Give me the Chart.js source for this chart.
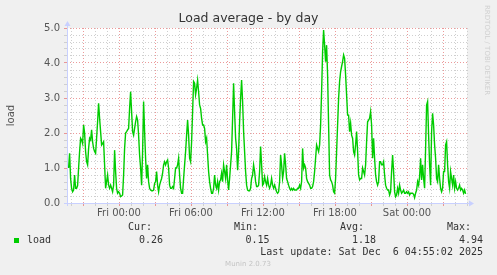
<!DOCTYPE html>
<html>
<head>
<meta charset="utf-8">
<script src="https://cdn.jsdelivr.net/npm/chart.js@4.4.0/dist/chart.umd.min.js"></script>
<style>
  html, body { margin: 0; padding: 0; background: #f0f0f0; }
</style>
</head>
<body>
<canvas id="loadChart" width="497" height="275"></canvas>
<script>
// minutes relative to Fri 00:00, one sample every 5 minutes
var startMinute = -252;
var stepMinutes = 5;

// load values, oldest first
var loadValues = [
  1.0, 1.42, 0.7, 0.42, 0.32, 0.37, 0.8, 0.42, 0.42, 0.5,
  1.0, 1.47, 1.85, 1.8, 1.7, 2.23, 2.0, 1.47, 1.18, 1.09,
  1.56, 1.85, 1.8, 2.09, 1.75, 1.56, 1.47, 1.42, 1.85, 2.32,
  2.85, 2.42, 2.04, 1.66, 1.7, 1.75, 1.09, 0.42, 0.61, 0.8,
  0.51, 0.42, 0.51, 0.42, 0.32, 0.51, 1.51, 0.9, 0.42, 0.28,
  0.32, 0.28, 0.18, 0.2, 0.23,
  0.8, 1.56, 2.0, 2.04, 2.09, 2.13, 2.7, 3.18, 2.61, 2.04,
  1.94, 2.13, 2.32, 2.47, 2.37, 1.94, 1.37, 1.0, 0.51, 1.47,
  2.9, 2.04, 1.28, 0.7, 1.09, 0.61, 0.42, 0.37, 0.35, 0.35,
  0.37, 0.56, 0.61, 0.9, 0.51, 0.32, 0.51, 0.61, 0.7, 0.85,
  1.09, 1.18, 1.09, 1.18, 1.23, 1.0, 0.51, 0.42, 0.42, 0.47,
  0.42, 0.7, 1.0, 1.0, 1.09, 1.28,
  0.8, 0.42, 0.28, 0.28, 0.7, 1.09, 1.47, 1.94, 2.37, 1.94,
  1.28, 1.18, 1.75, 2.61, 3.47, 3.42, 3.09, 3.28, 3.51, 3.18,
  2.8, 2.7, 2.42, 2.23, 2.23, 2.13, 1.75, 1.85, 1.37, 0.9,
  0.61, 0.42, 0.28, 0.28, 0.42, 0.8, 0.51, 0.42, 0.61, 0.37,
  0.61, 0.66, 0.85, 0.61, 1.09, 0.9, 0.7, 1.09, 0.66, 0.37,
  0.7, 1.09, 1.47, 2.42, 3.42, 2.61, 1.85, 1.56,
  0.94, 1.47, 2.32, 2.99, 3.51, 2.9, 2.04, 1.47, 0.9, 0.51,
  0.37, 0.35, 0.35, 0.42, 0.7, 0.8, 1.09, 0.9, 0.61, 0.47,
  0.47, 0.51, 0.9, 1.61, 1.09, 0.51, 0.56, 0.75, 0.61, 0.51,
  0.7, 0.51, 0.42, 0.51, 0.7, 0.51, 0.42, 0.51, 0.42, 0.32,
  0.28, 0.32, 0.61, 1.37, 1.09, 0.7, 0.9, 1.42, 1.09, 0.7,
  0.61, 0.51, 0.42, 0.37, 0.42, 0.37, 0.42, 0.37,
  0.37, 0.37, 0.42, 0.42, 0.51, 0.42, 0.61, 1.56, 1.0, 1.09,
  1.0, 0.7, 0.61, 0.56, 0.51, 0.42, 0.42, 0.47, 0.61, 0.9,
  1.28, 1.66, 1.56, 1.47, 1.66, 2.23, 3.18, 4.32, 4.94, 4.51,
  4.04, 4.51, 3.66, 2.23, 0.8, 0.66, 0.61, 0.51, 0.32, 0.28,
  0.7, 1.47, 2.23, 2.99, 3.47, 3.75, 3.9, 4.04, 4.23, 4.13,
  3.66, 3.09, 2.51, 2.51, 2.04, 2.28, 1.94, 1.85,
  1.47, 1.37, 1.66, 2.04, 1.47, 0.8, 0.66, 0.7, 0.7, 1.0,
  0.9, 0.8, 1.09, 1.75, 2.32, 2.37, 2.42, 2.61, 2.23, 1.28,
  1.85, 1.28, 0.8, 0.61, 0.51, 0.61, 1.18, 1.18, 1.09, 1.09,
  1.18, 0.8, 0.51, 0.42, 0.37, 0.37, 0.23, 0.32, 0.9, 1.37,
  0.9, 0.32, 0.18, 0.23, 0.42, 0.28, 0.51, 0.37, 0.28, 0.32,
  0.37, 0.28, 0.28, 0.32, 0.28, 0.32, 0.23, 0.28,
  0.28, 0.28, 0.25, 0.15, 0.28, 0.37, 0.61, 0.51, 0.75, 1.28,
  0.66, 1.09, 0.7, 0.42, 1.56, 2.8, 2.9, 1.94, 1.09, 0.51,
  2.04, 2.56, 2.23, 1.66, 1.28, 0.7, 0.61, 1.09, 0.7, 0.42,
  0.32, 0.42, 0.9, 0.9, 1.66, 1.75, 1.09, 0.61, 0.42, 0.9,
  0.7, 0.51, 0.8, 0.42, 0.61, 0.42, 0.37, 0.42, 0.51, 0.37,
  0.42, 0.37, 0.28, 0.37, 0.26
];

var xTickMinutes = [0, 360, 720, 1080, 1440];
var xTickLabels = ['Fri 00:00', 'Fri 06:00', 'Fri 12:00', 'Fri 18:00', 'Sat 00:00'];
var yTickLabels = ['0.0', '1.0', '2.0', '3.0', '4.0', '5.0'];

var legendHeads = ['Cur:', 'Min:', 'Avg:', 'Max:'];
var legendValues = ['0.26', '0.15', '1.18', '4.94'];
var lastUpdate = 'Last update: Sat Dec  6 04:55:02 2025';

var points = loadValues.map(function (v, i) {
  return { x: startMinute + i * stepMinutes, y: v };
});

var majorColor = 'rgba(230, 120, 120, 0.75)';
var minorColor = '#cfcfcf';
var axisColor = '#c8d0ff';

var xGrid = [];
for (var m = -240; m <= 1740; m += 60) xGrid.push(m);
var yGrid = [];
for (var k = 0; k <= 25; k++) yGrid.push(k / 5);

var muninDecor = {
  id: 'muninDecor',
  beforeDraw: function (chart) {
    var ctx = chart.ctx, a = chart.chartArea;
    ctx.save();
    ctx.fillStyle = '#f0f0f0';
    ctx.fillRect(0, 0, chart.width, chart.height);
    ctx.fillStyle = '#ffffff';
    ctx.fillRect(a.left, a.top, a.right - a.left, a.bottom - a.top);
    ctx.restore();
  },
  afterDraw: function (chart) {
    var ctx = chart.ctx, a = chart.chartArea;
    ctx.save();
    // axes with arrows
    ctx.strokeStyle = axisColor;
    ctx.fillStyle = axisColor;
    ctx.lineWidth = 1;
    ctx.beginPath();
    ctx.moveTo(a.left + 0.5, a.bottom + 3);
    ctx.lineTo(a.left + 0.5, a.top - 3);
    ctx.moveTo(a.left - 3, a.bottom + 0.5);
    ctx.lineTo(a.right + 3, a.bottom + 0.5);
    ctx.stroke();
    ctx.beginPath();
    ctx.moveTo(a.left + 0.5, a.top - 7);
    ctx.lineTo(a.left - 2.5, a.top - 2);
    ctx.lineTo(a.left + 3.5, a.top - 2);
    ctx.fill();
    ctx.beginPath();
    ctx.moveTo(a.right + 7, a.bottom + 0.5);
    ctx.lineTo(a.right + 2, a.bottom - 2.5);
    ctx.lineTo(a.right + 2, a.bottom + 3.5);
    ctx.fill();

    // legend block
    ctx.font = '10px "DejaVu Sans Mono"';
    ctx.fillStyle = '#333';
    ctx.textBaseline = 'middle';
    var headX = [128, 234, 340, 447];
    var valX = [163, 269.5, 376, 483];
    ctx.textAlign = 'left';
    legendHeads.forEach(function (h, i) { ctx.fillText(h, headX[i], 227.5); });
    ctx.fillText('load', 27, 240);
    ctx.textAlign = 'right';
    legendValues.forEach(function (v, i) { ctx.fillText(v, valX[i], 240); });
    ctx.fillText(lastUpdate, 483, 252);
    ctx.fillStyle = '#00cc00';
    ctx.fillRect(14, 238, 5, 5);

    ctx.font = '7px "DejaVu Sans"';
    ctx.fillStyle = '#c4c4c4';
    ctx.textAlign = 'center';
    ctx.fillText('Munin 2.0.73', 248, 264);

    ctx.translate(487, 5);
    ctx.rotate(Math.PI / 2);
    ctx.textAlign = 'left';
    ctx.fillStyle = '#d0d0d0';
    ctx.fillText('RRDTOOL / TOBI OETIKER', 0, 0);
    ctx.restore();
  }
};

Chart.defaults.font.family = '"DejaVu Sans"';

new Chart(document.getElementById('loadChart').getContext('2d'), {
  type: 'line',
  data: {
    datasets: [{
      label: 'load',
      data: points,
      borderColor: '#00cc00',
      borderWidth: 1.4,
      pointRadius: 0,
      tension: 0,
      fill: false
    }]
  },
  options: {
    responsive: false,
    animation: false,
    layout: { padding: { left: 0, right: 0, top: 0, bottom: 50 } },
    plugins: {
      legend: { display: false },
      tooltip: { enabled: false },
      title: {
        display: true,
        text: 'Load average - by day',
        color: '#333',
        font: { size: 12.5, weight: 'normal' },
        padding: { top: 11.5, bottom: 1.5 }
      }
    },
    scales: {
      x: {
        type: 'linear',
        min: -260,
        max: 1740,
        afterBuildTicks: function (axis) {
          axis.ticks = xGrid.map(function (v) { return { value: v }; });
        },
        afterFit: function (axis) { axis.height = 22; },
        grid: {
          color: function (c) { return c.tick && c.tick.value % 180 === 0 ? majorColor : minorColor; },
          tickLength: 3
        },
        border: { display: false, dash: [1, 2] },
        ticks: {
          autoSkip: false,
          maxRotation: 0,
          padding: 1,
          color: '#555',
          font: { size: 10 },
          callback: function (v) {
            var i = xTickMinutes.indexOf(v);
            return i >= 0 ? xTickLabels[i] : '';
          }
        }
      },
      y: {
        min: 0,
        max: 5,
        afterBuildTicks: function (axis) {
          axis.ticks = yGrid.map(function (v) { return { value: v }; });
        },
        afterFit: function (axis) { axis.width = 67; },
        grid: {
          color: function (c) {
            return c.tick && Math.abs(c.tick.value - Math.round(c.tick.value)) < 1e-6 ? majorColor : minorColor;
          },
          tickLength: 3
        },
        border: { display: false, dash: [1, 2] },
        ticks: {
          autoSkip: false,
          padding: 4,
          color: '#555',
          font: { size: 10 },
          callback: function (v) {
            return Math.abs(v - Math.round(v)) < 1e-6 ? yTickLabels[Math.round(v)] : '';
          }
        },
        title: {
          display: true,
          text: 'load',
          color: '#555',
          font: { size: 10 },
          padding: { top: 5, bottom: 0 }
        }
      },
      // empty right-hand axis, only reserves the margin so the title stays centred on the canvas
      yRight: {
        position: 'right',
        min: 0,
        max: 5,
        afterFit: function (axis) { axis.width = 30; },
        grid: { display: false },
        border: { display: false },
        ticks: { display: false }
      }
    }
  },
  plugins: [muninDecor]
});
</script>
</body>
</html>
